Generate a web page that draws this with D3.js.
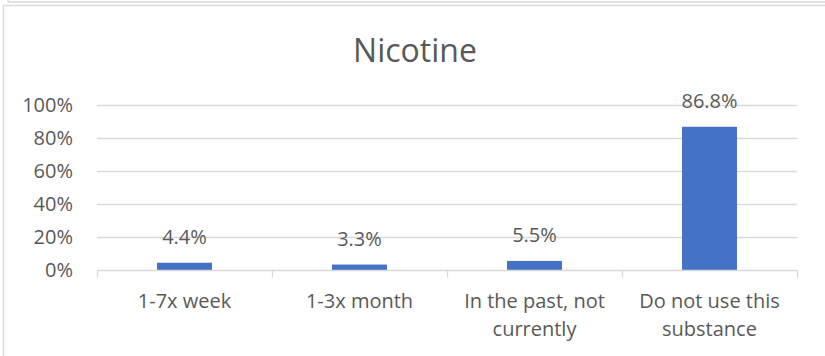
<!DOCTYPE html>
<html>
<head>
<meta charset="utf-8">
<script src="https://cdn.jsdelivr.net/npm/d3@7/dist/d3.min.js"></script>
<style>
  html, body { margin: 0; padding: 0; background: #fff; }
  svg { display: block; font-family: "Open Sans", "Noto Sans", sans-serif; }
</style>
</head>
<body>
<svg id="chart" width="825" height="356"></svg>
<script>
// Nicotine use frequency (share of respondents)
const title = "Nicotine";
const categories = [
  ["1-7x week"],
  ["1-3x month"],
  ["In the past, not", "currently"],
  ["Do not use this", "substance"]
];
const values = [0.044, 0.033, 0.055, 0.868];
const valueLabels = ["4.4%", "3.3%", "5.5%", "86.8%"];
const yTicks = [0, 0.2, 0.4, 0.6, 0.8, 1.0];

const svg = d3.select("#chart");
const W = 825, H = 356;
const plot = { left: 97, right: 797, top: 105, bottom: 270 };
const textColor = "#595959";
const gridColor = "#d9d9d9";

// frame lines
svg.append("line").attr("x1", 8).attr("x2", W).attr("y1", 2).attr("y2", 2)
  .attr("stroke", gridColor).attr("stroke-width", 1.5);
svg.append("line").attr("x1", 8).attr("x2", 8).attr("y1", 0).attr("y2", 2)
  .attr("stroke", gridColor).attr("stroke-width", 1.5);
svg.append("rect").attr("x", 3.5).attr("y", 5.5).attr("width", W + 10).attr("height", H + 10)
  .attr("fill", "#fff").attr("stroke", gridColor).attr("stroke-width", 1.5);

const x = d3.scaleBand()
  .domain(categories.map((c, i) => i))
  .range([plot.left, plot.right])
  .padding(0);
const y = d3.scaleLinear().domain([0, 1]).range([plot.bottom, plot.top]);
const barW = x.bandwidth() * 0.314;

// title
svg.append("text")
  .attr("x", 415).attr("y", 61.5)
  .attr("text-anchor", "middle")
  .attr("fill", textColor)
  .attr("font-size", 32)
  .text(title);

// gridlines
svg.append("g")
  .selectAll("line")
  .data(yTicks.filter(t => t > 0))
  .join("line")
  .attr("x1", plot.left).attr("x2", plot.right)
  .attr("y1", d => Math.round(y(d)) + 0.5).attr("y2", d => Math.round(y(d)) + 0.5)
  .attr("stroke", gridColor).attr("stroke-width", 1.3);

// y axis labels
const yAxis = d3.axisLeft(y)
  .tickValues(yTicks)
  .tickFormat(d3.format(".0%"))
  .tickSize(0)
  .tickPadding(24);
const gy = svg.append("g").attr("transform", `translate(${plot.left},0)`).call(yAxis);
gy.select(".domain").remove();
gy.selectAll("text")
  .attr("fill", textColor)
  .attr("font-size", 20)
  .attr("font-family", "Open Sans, Noto Sans, sans-serif");

// bars
svg.append("g")
  .selectAll("rect")
  .data(values)
  .join("rect")
  .attr("x", (d, i) => x(i) + (x.bandwidth() - barW) / 2)
  .attr("width", barW)
  .attr("y", d => y(d))
  .attr("height", d => y(0) - y(d))
  .attr("fill", "#4472c4");

// value labels
svg.append("g")
  .selectAll("text")
  .data(values)
  .join("text")
  .attr("x", (d, i) => x(i) + x.bandwidth() / 2)
  .attr("y", d => y(d) - 18.5)
  .attr("text-anchor", "middle")
  .attr("fill", textColor)
  .attr("font-size", 20)
  .text((d, i) => valueLabels[i]);

// x axis line and category ticks
const gx = svg.append("g").attr("transform", `translate(0,${plot.bottom + 0.5})`);
gx.append("line").attr("x1", plot.left).attr("x2", plot.right)
  .attr("stroke", gridColor).attr("stroke-width", 1.3);
const bounds = categories.map((c, i) => x(i)).concat([plot.right]);
gx.selectAll("line.tick")
  .data(bounds)
  .join("line")
  .attr("class", "tick")
  .attr("x1", d => Math.round(d) + 0.5).attr("x2", d => Math.round(d) + 0.5)
  .attr("y1", 0).attr("y2", 7)
  .attr("stroke", gridColor).attr("stroke-width", 1.3);

// category labels
const catText = svg.append("g")
  .selectAll("text")
  .data(categories)
  .join("text")
  .attr("x", (d, i) => x(i) + x.bandwidth() / 2)
  .attr("y", 307.5)
  .attr("text-anchor", "middle")
  .attr("fill", textColor)
  .attr("font-size", 20);
catText.selectAll("tspan")
  .data(d => d)
  .join("tspan")
  .attr("x", function () { return d3.select(this.parentNode).attr("x"); })
  .attr("dy", (d, j) => j === 0 ? 0 : 28.5)
  .text(d => d);
</script>
</body>
</html>
